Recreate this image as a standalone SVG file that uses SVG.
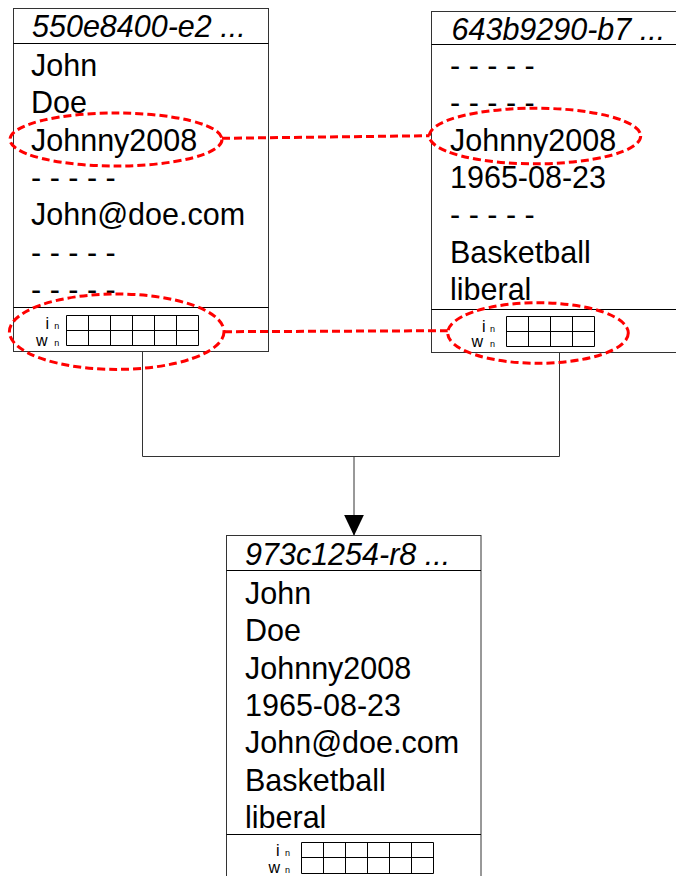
<svg xmlns="http://www.w3.org/2000/svg" width="676" height="876" viewBox="0 0 676 876">
<defs>
<style>
.box{fill:#fff;stroke:#333;stroke-width:1}
.div{stroke:#000;stroke-width:1;fill:none}
.t{font-family:"Liberation Sans",Arial,sans-serif;font-size:30.5px;fill:#000}
.h{font-style:italic}
.s{font-family:"Liberation Sans",Arial,sans-serif;font-size:16px;fill:#000}
.sub{font-size:9px}
.grid{fill:none;stroke:#000;stroke-width:1}
.hl{fill:none;stroke:#f00;stroke-width:3;stroke-dasharray:8 4}
.conn{fill:none;stroke:#333;stroke-width:1}
</style>
<marker id="arr" markerUnits="userSpaceOnUse" markerWidth="22" markerHeight="20" refX="21" refY="10" orient="auto" viewBox="0 0 22 20">
<path d="M0,0 L21,10 L0,20 z" fill="#000"/>
</marker>
</defs>
<rect width="676" height="876" fill="#fff"/>

<g id="connectors">
<polyline class="conn" points="142.5,352 142.5,456.5 559.5,456.5 559.5,352.5"/>
<line class="conn" x1="354" y1="456.5" x2="354" y2="535.7" marker-end="url(#arr)"/>
</g>

<g id="node-left">
<rect class="box" x="13.5" y="8.5" width="255" height="343"/>
<line class="div" x1="13.5" y1="43.5" x2="268.5" y2="43.5"/>
<line class="div" x1="13.5" y1="307.5" x2="268.5" y2="307.5"/>
<text class="t h" x="32" y="36.7">550e8400-e2 ...</text>
<text class="t" x="31" y="76">John</text>
<text class="t" x="31" y="113.3">Doe</text>
<text class="t" x="31" y="150.6">Johnny2008</text>
<text class="t" x="31" y="187.9">- - - - -</text>
<text class="t" x="31" y="225.2">John@doe.com</text>
<text class="t" x="31" y="262.5">- - - - -</text>
<text class="t" x="31" y="299.8">- - - - -</text>
<text class="s" x="49" y="329.3" text-anchor="end">i</text>
<text class="s sub" x="54.3" y="329.3">n</text>
<text class="s" x="47.5" y="345.7" text-anchor="end">w</text>
<text class="s sub" x="54.3" y="345.7">n</text>
<path class="grid" d="M66.5,315.5 H198.5 V345.5 H66.5 Z M66.5,330.5 H198.5 M88.5,315.5 V345.5 M110.5,315.5 V345.5 M132.5,315.5 V345.5 M154.5,315.5 V345.5 M176.5,315.5 V345.5"/>
</g>

<g id="node-right">
<rect class="box" x="431.5" y="11.5" width="260" height="341"/>
<line class="div" x1="431.5" y1="44.5" x2="691.5" y2="44.5"/>
<line class="div" x1="431.5" y1="309.5" x2="691.5" y2="309.5"/>
<text class="t h" x="451.5" y="40">643b9290-b7 ...</text>
<text class="t" x="450" y="76.1">- - - - -</text>
<text class="t" x="450" y="113.4">- - - - -</text>
<text class="t" x="450" y="150.7">Johnny2008</text>
<text class="t" x="450" y="188">1965-08-23</text>
<text class="t" x="450" y="225.3">- - - - -</text>
<text class="t" x="450" y="262.6">Basketball</text>
<text class="t" x="450" y="299.9">liberal</text>
<text class="s" x="485.5" y="331.7" text-anchor="end">i</text>
<text class="s sub" x="490" y="331.7">n</text>
<text class="s" x="483" y="347.3" text-anchor="end">w</text>
<text class="s sub" x="490" y="347.3">n</text>
<path class="grid" d="M506.5,316.5 H594.5 V346.5 H506.5 Z M506.5,331.5 H594.5 M528.5,316.5 V346.5 M550.5,316.5 V346.5 M572.5,316.5 V346.5"/>
</g>

<g id="node-merged">
<rect class="box" x="226.5" y="535.5" width="254.5" height="350"/>
<line class="div" x1="226.5" y1="570.5" x2="481" y2="570.5"/>
<line class="div" x1="226.5" y1="834.5" x2="481" y2="834.5"/>
<text class="t h" x="245" y="565">973c1254-r8 ...</text>
<text class="t" x="245" y="604">John</text>
<text class="t" x="245" y="641.3">Doe</text>
<text class="t" x="245" y="678.6">Johnny2008</text>
<text class="t" x="245" y="715.9">1965-08-23</text>
<text class="t" x="245" y="753.2">John@doe.com</text>
<text class="t" x="245" y="790.5">Basketball</text>
<text class="t" x="245" y="827.8">liberal</text>
<text class="s" x="279.5" y="856" text-anchor="end">i</text>
<text class="s sub" x="285" y="856">n</text>
<text class="s" x="280" y="873" text-anchor="end">w</text>
<text class="s sub" x="285" y="873">n</text>
<path class="grid" d="M301.5,842.5 H433.5 V873.5 H301.5 Z M301.5,857.5 H433.5 M323.5,842.5 V873.5 M345.5,842.5 V873.5 M367.5,842.5 V873.5 M389.5,842.5 V873.5 M411.5,842.5 V873.5"/>
</g>

<g id="highlights">
<ellipse class="hl" cx="116" cy="139.5" rx="106" ry="26.5"/>
<ellipse class="hl" cx="116.7" cy="331.7" rx="107.3" ry="37.7"/>
<ellipse class="hl" cx="535" cy="136" rx="105.7" ry="27.8"/>
<ellipse class="hl" cx="538" cy="333" rx="90.3" ry="30.3"/>
<line class="hl" x1="222" y1="138.3" x2="429.5" y2="135.7"/>
<line class="hl" x1="224" y1="331.7" x2="447.7" y2="330.7"/>
</g>
</svg>
